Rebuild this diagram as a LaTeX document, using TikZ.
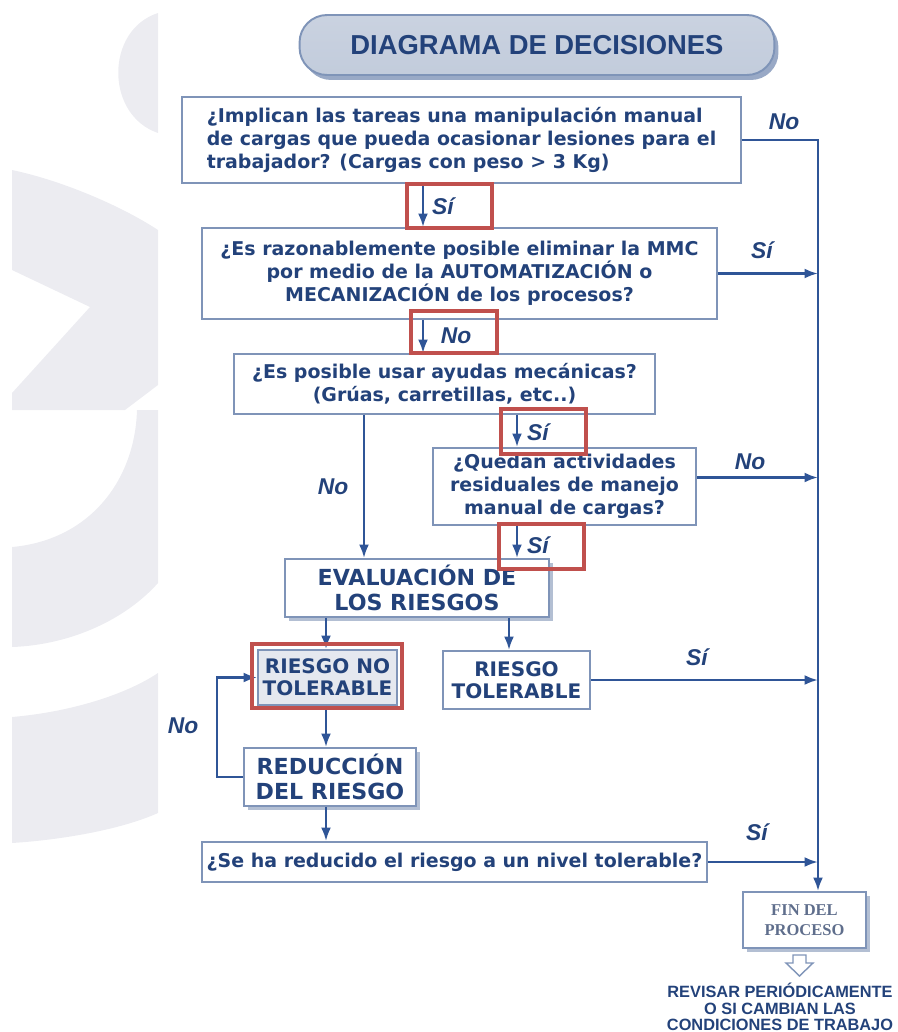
\documentclass[tikz,border=0pt]{standalone}
\usepackage{fontspec}
\setmainfont{DejaVu Sans}
\newfontfamily\arialfont{Liberation Sans}
\newfontfamily\timesfont{Liberation Serif}
\usetikzlibrary{arrows.meta,shadows}
\definecolor{txtblue}{HTML}{23427A}
\definecolor{lineblue}{HTML}{2F5597}
\definecolor{boxblue}{HTML}{7F94B8}
\definecolor{shadeblue}{HTML}{B3BFD3}
\definecolor{markred}{HTML}{C0504D}
\definecolor{wmgray}{HTML}{ECECF1}
\definecolor{rntfill}{HTML}{E5E8EF}
\definecolor{finblue}{HTML}{5F6E8C}

\begin{document}
\begin{tikzpicture}[x=0.02cm,y=-0.02cm,line width=1pt,>={Latex[length=0.27cm,width=0.2cm]}]
\tikzset{qbox/.style={draw=boxblue,line width=1.1pt,fill=white,text=txtblue,
    font=\bfseries\fontsize{10.8}{13}\selectfont,align=center,inner sep=0pt},
  capbox/.style={qbox,font=\bfseries\fontsize{12.6}{14}\selectfont},
  shadowed/.style={drop shadow={shadow xshift=0.08cm,shadow yshift=-0.08cm,fill=shadeblue,opacity=1}},
  flow/.style={draw=lineblue,line width=1.4pt,->},
  tag/.style={text=txtblue,font=\arialfont\bfseries\itshape\fontsize{13}{13}\selectfont,inner sep=0pt},
  hilite/.style={draw=markred,line width=2.3pt}}
\useasboundingbox (0,0) rectangle (898,1032);
% ---------- watermark ----------
\fill[wmgray] (158,13) .. controls (105,30) and (105,115) .. (158,133) -- cycle;
\fill[wmgray] (12,170) .. controls (60,180) and (120,205) .. (158,230) -- (158,385) -- (125,410)
  -- (12,410) -- (12,393) -- (90,307) -- (12,270) -- cycle;
\fill[wmgray] (137,410) -- (158,410) -- (158,583) .. controls (125,620) and (70,645) .. (12,647)
  -- (12,547) .. controls (90,540) and (135,480) .. (137,410) -- cycle;
\fill[wmgray] (12,717) .. controls (70,712) and (125,695) .. (158,673) -- (158,813)
  .. controls (120,830) and (60,840) .. (12,843) -- cycle;
% ---------- title ----------
\node[draw=boxblue,line width=1.1pt,rounded corners=0.55cm,top color=white!30!shadeblue,
  bottom color=shadeblue!80,drop shadow={shadow xshift=0.08cm,shadow yshift=-0.1cm,fill=boxblue!80,opacity=1},
  minimum width=9.5cm,minimum height=1.2cm,text=txtblue,
  font=\arialfont\bfseries\fontsize{15.6}{16}\selectfont] (title) at (537,45) {DIAGRAMA DE DECISIONES};
% ---------- questions ----------
\node[qbox,align=left,minimum width=11.18cm,minimum height=1.72cm] (q1) at (461.5,140)
  {¿Implican las tareas una manipulación manual\\de cargas que pueda ocasionar lesiones para el\\trabajador? (Cargas con peso > 3 Kg)};
\node[qbox,minimum width=10.3cm,minimum height=1.82cm] (q2) at (459.5,273.5)
  {¿Es razonablemente posible eliminar la MMC\\por medio de la AUTOMATIZACIÓN o\\MECANIZACIÓN de los procesos?};
\node[qbox,minimum width=8.42cm,minimum height=1.2cm] (q3) at (444.5,384)
  {¿Es posible usar ayudas mecánicas?\\(Grúas, carretillas, etc..)};
\node[qbox,minimum width=5.26cm,minimum height=1.54cm] (q4) at (564.5,486.5)
  {¿Quedan actividades\\residuales de manejo\\manual de cargas?};
% ---------- risk boxes ----------
\node[capbox,shadowed,minimum width=5.28cm,minimum height=1.16cm] (eval) at (417,588) {EVALUACIÓN DE\\LOS RIESGOS};
\node[capbox,fill=rntfill,font=\bfseries\fontsize{11.4}{12.5}\selectfont,minimum width=2.78cm,minimum height=1.1cm] (rnt) at (327.5,677.5) {RIESGO NO\\TOLERABLE};
\node[capbox,font=\bfseries\fontsize{11.4}{12.5}\selectfont,minimum width=2.94cm,minimum height=1.16cm] (rt) at (516.5,680) {RIESGO\\TOLERABLE};
\node[capbox,shadowed,minimum width=3.44cm,minimum height=1.16cm] (red) at (330,777) {REDUCCIÓN\\DEL RIESGO};
\node[qbox,minimum width=10.1cm,minimum height=0.8cm] (q5) at (454.5,862) {¿Se ha reducido el riesgo a un nivel tolerable?};
% ---------- end ----------
\node[qbox,shadowed,text=finblue,font=\timesfont\bfseries\fontsize{9.4}{11.5}\selectfont,
  minimum width=2.46cm,minimum height=1.12cm] (fin) at (804.5,920) {FIN DEL\\PROCESO};
\draw[boxblue,fill=white,line width=0.8pt] (793,955) -- (806,955) -- (806,963) -- (813,963)
  -- (799.5,976) -- (786,963) -- (793,963) -- cycle;
\node[text=txtblue,font=\arialfont\bfseries\fontsize{9.3}{9.4}\selectfont,align=center,inner sep=0pt]
  (rev) at (780,1007) {REVISAR PERIÓDICAMENTE\\O SI CAMBIAN LAS\\CONDICIONES DE TRABAJO};
% ---------- connectors ----------
\coordinate (rail) at (818,0);
\coordinate (xa) at (423,0);
\coordinate (xb) at (517,0);
\coordinate (xc) at (364,0);
\coordinate (xd) at (326,0);
\coordinate (xe) at (509,0);
\coordinate (xl) at (217,0);
\draw[flow] (q1.east) -- (q1.east -| rail) -- (rail |- fin.north);
\draw[flow] (q2.east) -- (q2.east -| rail);
\draw[flow] ([yshift=0.18cm]q4.east) -- ([yshift=0.18cm]q4.east -| rail);
\draw[flow] (rt.east) -- (rt.east -| rail);
\draw[flow] (q5.east) -- (q5.east -| rail);
\draw[flow] (q1.south -| xa) -- (q2.north -| xa);
\draw[flow] (q2.south -| xa) -- (q3.north -| xa);
\draw[flow] (q3.south -| xb) -- (q4.north -| xb);
\draw[flow] (q4.south -| xb) -- (eval.north -| xb);
\draw[flow] (q3.south -| xc) -- (eval.north -| xc);
\draw[flow] (eval.south -| xd) -- (rnt.north -| xd);
\draw[flow] (eval.south -| xe) -- (rt.north -| xe);
\draw[flow] (rnt.south -| xd) -- (red.north -| xd);
\draw[flow] (red.south -| xd) -- (q5.north -| xd);
\draw[flow] (red.west) -- (red.west -| xl) -- (xl |- rnt.west) -- (rnt.west);
% ---------- labels ----------
\node[tag] (lno1) at (784,122) {No};
\node[tag] (lsi2) at (762,250) {Sí};
\node[tag] (lno4) at (750,462) {No};
\node[tag] (lsi5) at (697,657) {Sí};
\node[tag] (lsi6) at (757,832) {Sí};
\node[tag] (lno3) at (333,487) {No};
\node[tag] (lno7) at (183,726) {No};
\node[tag] (lsi1) at (443,206) {Sí};
\node[tag] (lno2) at (456,336) {No};
\node[tag] (lsi3) at (538,432) {Sí};
\node[tag] (lsi4) at (538,545) {Sí};
% ---------- highlights ----------
\draw[hilite] (407,184) rectangle (492,228);
\draw[hilite] (411,311) rectangle (497,353);
\draw[hilite] (501,409) rectangle (586,454);
\draw[hilite] (499,524) rectangle (584,569);
\draw[hilite] (252,644) rectangle (402,708);
\end{tikzpicture}
\end{document}
